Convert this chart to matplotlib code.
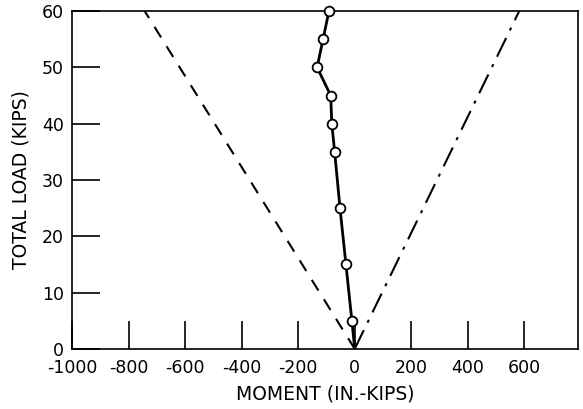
import numpy as np
import matplotlib
matplotlib.use("Agg")
import matplotlib.pyplot as plt

# measured moment vs load
moment = [0, -10, -31, -52, -71, -81, -85, -133, -112, -91]
load = [0, 5, 15, 25, 35, 40, 45, 50, 55, 60]

# theoretical limit lines (from origin to top of plot)
neg_limit_moment = [0, -743]
pos_limit_moment = [0, 582]
limit_load = [0, 60]

xticks = [-1000, -800, -600, -400, -200, 0, 200, 400, 600]
yticks = [0, 10, 20, 30, 40, 50, 60]

plt.rcParams['font.family'] = ['DejaVu Sans']
plt.rcParams['axes.unicode_minus'] = False

fig = plt.figure(figsize=(5.83, 4.09), dpi=100)
ax = fig.add_axes([0.1235, 0.147, 0.868, 0.826])

ax.plot(neg_limit_moment, limit_load, color='black', lw=1.5, ls=(0, (6, 5)))
ax.plot(pos_limit_moment, limit_load, color='black', lw=1.5, ls=(0, (10, 4, 1.5, 4)))
ax.plot(moment[:2], load[:2], color='black', lw=2)
ax.plot(moment[1:], load[1:], color='black', lw=2, marker='o', ms=7,
        mfc='white', mec='black', mew=1.3, clip_on=False, zorder=3)

ax.set_xlim(-1000, 790)
ax.set_ylim(0, 60)
ax.set_xticks(xticks)
ax.set_yticks(yticks)
ax.tick_params(direction='in', length=20, width=1.2, labelsize=12.5, pad=6)
ax.tick_params(axis='x', pad=7)
for s in ax.spines.values():
    s.set_linewidth(1.2)

ax.set_xlabel('MOMENT (IN.-KIPS)', fontsize=13.5, labelpad=6)
ax.set_ylabel('TOTAL LOAD (KIPS)', fontsize=13.5, labelpad=8)

fig.savefig('out.png', dpi=100)
